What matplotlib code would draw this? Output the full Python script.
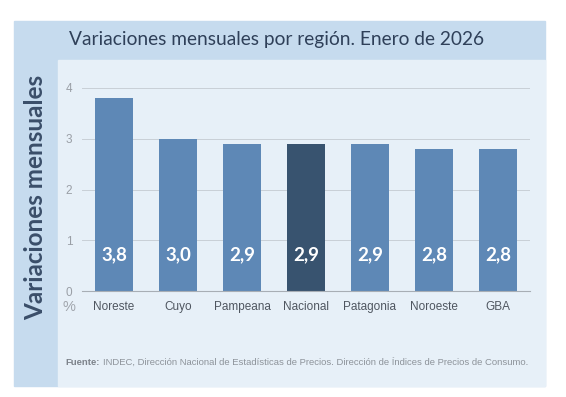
import matplotlib.pyplot as plt
from matplotlib.patches import Rectangle

regions = ["Noreste", "Cuyo", "Pampeana", "Nacional", "Patagonia", "Noroeste", "GBA"]
values = [3.8, 3.0, 2.9, 2.9, 2.9, 2.8, 2.8]
labels = ["3,8", "3,0", "2,9", "2,9", "2,9", "2,8", "2,8"]
yticks = [0, 1, 2, 3, 4]

bar_color = "#5E88B6"
nat_color = "#38536F"
colors = [nat_color if r == "Nacional" else bar_color for r in regions]
narrow = ["Liberation Sans Narrow", "Liberation Sans"]

W, H = 566, 397
fig = plt.figure(figsize=(W / 100, H / 100), dpi=100)
fig.patch.set_facecolor("white")


# background panels (pixel coords from top-left)
def px_rect(x0, y0, x1, y1, color):
    fig.patches.append(Rectangle((x0 / W, 1 - y1 / H), (x1 - x0) / W, (y1 - y0) / H,
                                 transform=fig.transFigure, color=color, zorder=-5))


px_rect(14, 21, 545, 386, "#C6DBEE")
px_rect(58, 60, 545, 386, "#E7F0F8")

ax = fig.add_axes([82 / W, 1 - 291 / H, (530 - 82) / W, (291 - 88) / H])
ax.set_facecolor("none")
ax.set_zorder(2)

x = range(len(regions))
ax.bar(x, values, width=0.6, color=colors, zorder=2)
for i, (v, lab) in enumerate(zip(values, labels)):
    ax.text(i, 0.71, lab, ha="center", va="center", color="white",
            fontsize=13.5, fontweight="bold", family="Lato", zorder=3)

ax.set_xlim(-0.5, len(regions) - 0.5)
ax.set_ylim(0, 4)
ax.set_yticks(yticks)
ax.set_yticklabels([str(t) for t in yticks], color="#9A9FA6", fontsize=8.5, family=narrow)
ax.set_xticks(list(x))
ax.set_xticklabels(regions, color="#4F5660", fontsize=8.5, family=narrow)
ax.tick_params(axis="y", length=0, pad=7)
ax.tick_params(axis="x", length=0, pad=7)
ax.grid(axis="y", color="#C9CFD6", linewidth=0.7, zorder=1)
for s in ["top", "right", "left"]:
    ax.spines[s].set_visible(False)
ax.spines["bottom"].set_color("#A8AEB5")
ax.spines["bottom"].set_linewidth(0.8)

fig.text(69 / W, 1 - 39 / H, "Variaciones mensuales por región. Enero de 2026",
         ha="left", va="center", fontsize=13.8, color="#2F4059", family="Lato")
fig.text(36 / W, 1 - 197 / H, "Variaciones mensuales", rotation=90,
         ha="center", va="center", fontsize=17.5, fontweight="bold",
         color="#3A4E69", family="Lato")
fig.text(69 / W, 1 - 307 / H, "%", ha="center", va="center", fontsize=10.5,
         color="#A0A5AC", family=narrow)

src = fig.text(65 / W, 1 - 367 / H, "Fuente:", ha="left", va="bottom", fontsize=6.8,
               fontweight="bold", color="#7D838B", family="Liberation Sans")
fig.add_artist(plt.Annotation(
    "INDEC, Dirección Nacional de Estadísticas de Precios. Dirección de Índices de Precios de Consumo.",
    xy=(1, 0), xycoords=src, xytext=(2.5, 0), textcoords="offset points",
    ha="left", va="bottom", fontsize=6.8, color="#8D939A", family="Liberation Sans"))

fig.savefig("out.png", dpi=100)
